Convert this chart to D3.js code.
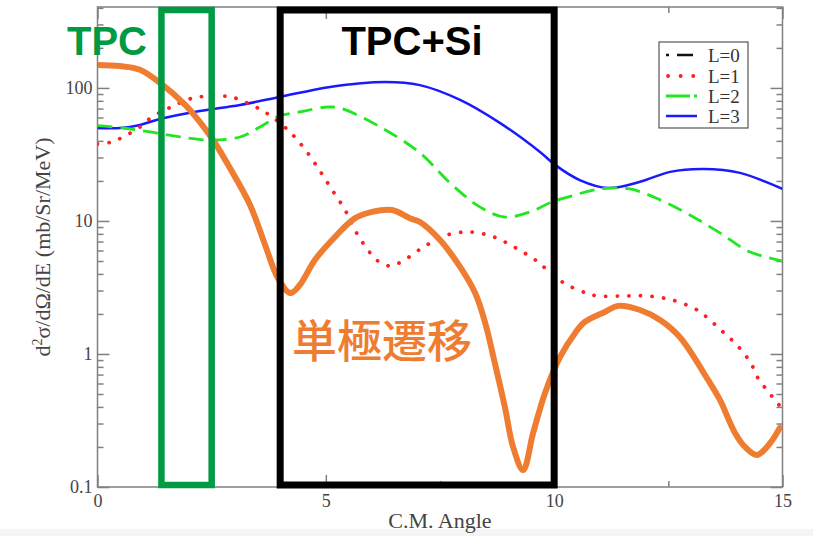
<!DOCTYPE html>
<html><head><meta charset="utf-8">
<script src="https://cdn.jsdelivr.net/npm/d3@7"></script>
<style>body{margin:0;background:#fff}svg{display:block}</style>
</head><body>
<svg id="c" width="813" height="536"></svg>
<script>
// ---- data ----
const seriesNames = ["L=0", "L=1", "L=2", "L=3"];
const angleL0 = [0,0.49,0.93,1.37,1.92,2.24,2.53,2.9,3.34,3.67,3.95,4.22,4.43,4.76,5.2,5.64,6.01,6.45,6.84,7.06,7.5,7.94,8.27,8.49,8.7,8.92,9.1,9.32,9.54,9.8,10.13,10.46,10.67,11.11,11.4,11.88,12.32,12.75,13.37,13.63,13.96,14.18,14.44,14.73,14.94];
const valueL0 = [149,146,137,109,74.5,55.5,40.6,25,13.2,6.6,3.73,2.87,3.3,5.09,7.58,10.5,11.7,12.1,10.5,9.83,7.2,4.51,2.87,1.71,0.856,0.4,0.2,0.134,0.255,0.509,0.95,1.44,1.74,2.07,2.3,2.14,1.8,1.34,0.638,0.451,0.255,0.2,0.174,0.214,0.278];
const angleL1 = [0,0.32,0.56,0.93,1.19,1.48,1.7,1.96,2.2,2.75,3.01,3.51,3.73,4.17,4.52,4.83,5.11,5.42,5.66,5.97,6.14,6.4,6.65,7.11,7.59,8.09,8.62,9.12,9.62,9.8,10.21,10.7,10.96,11.51,12.03,12.58,13.09,13.31,13.7,14.0,14.3,14.51,14.69,14.84,15];
const valueL1 = [37.9,39.3,42.8,50.9,60.5,68.3,74.5,81.3,85.5,87.1,84.1,70.7,63.8,48.3,35.4,25,17.7,12.1,8.27,5.75,5.0,4.59,4.92,6.27,7.71,8.27,7.71,6.38,5.0,4.43,3.42,2.87,2.73,2.73,2.73,2.55,2.18,1.93,1.46,1.17,0.86,0.616,0.527,0.443,0.393];
const angleL2 = [0,0.56,1.15,1.81,2.47,3.12,3.56,3.99,4.43,4.98,5.31,6.19,7.06,7.72,8.38,8.92,9.47,9.91,10.24,11.0,11.66,12.32,12.97,13.63,14.29,15];
const valueL2 = [52,50,46.7,42.8,40.6,42.8,50.9,61.6,66,71.6,70.5,50.9,32.5,19.3,12.7,10.7,11.7,13.7,14.9,17.4,17.4,14.4,11.1,8.13,5.85,5.0];
const angleL3 = [0,0.5,0.93,1.37,2.24,3.12,3.99,5.09,6.3,7.06,7.94,8.81,9.69,10.02,10.56,11.18,11.88,12.54,13.26,14.07,15];
const valueL3 = [50,50,52.7,58.5,67.1,74.5,85.5,101.8,111,105,81.3,54.6,33,26.4,20.3,17.7,19.7,23.4,24.6,23,17.4];
const xMajorTicks = [0, 5, 10, 15];
const xMinorTicks = [2.5, 7.5, 12.5];
const yMajorTicks = [0.1, 1, 10, 100];
const yTickLabels = ["0.1", "1", "10", "100"];
const regionTPC = [1.4, 2.5];
const regionTPCSi = [4.0, 10.0];

// ---- scales ----
const svg = d3.select("#c");
const x = d3.scaleLinear().domain([0, 15]).range([97.5, 782.5]);
const y = d3.scaleLog().domain([0.1, 406]).range([487, 7]);
const yMinorTicks = y.ticks().filter(v => !yMajorTicks.some(m => Math.abs(m - v) < 1e-9));

svg.append("rect").attr("x",0).attr("y",529).attr("width",813).attr("height",7).attr("fill","#f5f5f5");

svg.append("defs").append("clipPath").attr("id","plot")
  .append("rect").attr("x",97.5).attr("y",7).attr("width",685).attr("height",480);

// axes
const tickFont = g => g.selectAll("text").attr("font-family","'Liberation Serif', serif").attr("font-size",18).attr("fill","#444");
const styleAxis = g => { g.select(".domain").remove(); g.selectAll("line").attr("stroke","#808080").attr("stroke-width",1.5); };

svg.append("g").attr("transform","translate(0,487)")
  .call(d3.axisBottom(x).tickValues(xMajorTicks).tickSizeInner(-12).tickSizeOuter(0).tickPadding(7).tickFormat(d3.format("d")))
  .call(styleAxis).call(tickFont);
svg.append("g").attr("transform","translate(0,487)")
  .call(d3.axisBottom(x).tickValues(xMinorTicks).tickSizeInner(-6).tickSizeOuter(0).tickFormat(""))
  .call(styleAxis);
svg.append("g").attr("transform","translate(0,7)")
  .call(d3.axisTop(x).tickValues(xMajorTicks).tickSizeInner(-12).tickSizeOuter(0).tickFormat(""))
  .call(styleAxis);
svg.append("g").attr("transform","translate(0,7)")
  .call(d3.axisTop(x).tickValues(xMinorTicks).tickSizeInner(-6).tickSizeOuter(0).tickFormat(""))
  .call(styleAxis);
svg.append("g").attr("transform","translate(97.5,0)")
  .call(d3.axisLeft(y).tickValues(yMajorTicks).tickSizeInner(-12).tickSizeOuter(0).tickPadding(5).tickFormat((d,i)=>yTickLabels[i]))
  .call(styleAxis).call(tickFont);
svg.append("g").attr("transform","translate(97.5,0)")
  .call(d3.axisLeft(y).tickValues(yMinorTicks).tickSizeInner(-6).tickSizeOuter(0).tickFormat(""))
  .call(styleAxis);
svg.append("g").attr("transform","translate(782.5,0)")
  .call(d3.axisRight(y).tickValues(yMajorTicks).tickSizeInner(-12).tickSizeOuter(0).tickFormat(""))
  .call(styleAxis);
svg.append("g").attr("transform","translate(782.5,0)")
  .call(d3.axisRight(y).tickValues(yMinorTicks).tickSizeInner(-6).tickSizeOuter(0).tickFormat(""))
  .call(styleAxis);
svg.append("rect").attr("x",97.5).attr("y",7).attr("width",685).attr("height",480)
  .attr("fill","none").attr("stroke","#808080").attr("stroke-width",1.5);

// axis titles
svg.append("text").attr("x",440).attr("y",528).attr("text-anchor","middle")
  .attr("font-family","'Liberation Serif', serif").attr("font-size",22).attr("fill","#444").text("C.M. Angle");
const yl = svg.append("text").attr("transform","translate(50,247) rotate(-90)").attr("text-anchor","middle")
  .attr("font-family","'Liberation Serif', serif").attr("font-size",22).attr("fill","#444");
yl.append("tspan").text("d");
yl.append("tspan").attr("dy",-8).attr("font-size",14).text("2");
yl.append("tspan").attr("dy",8).text("σ/dΩ/dE  (mb/Sr/MeV)");

// curves
const line = d3.line().x(d => x(d[0])).y(d => y(d[1])).curve(d3.curveCatmullRom.alpha(0.5));
const plot = svg.append("g").attr("clip-path","url(#plot)");
const zip = (a, b) => a.map((v, i) => [v, b[i]]);
const series = [
  {data: zip(angleL3, valueL3), color:"#1a1aff", w:2.5, dash:null},
  {data: zip(angleL2, valueL2), color:"#22e622", w:2.8, dash:"15,8"},
  {data: zip(angleL1, valueL1), color:"#ff2020", w:3.8, dash:"0.1,11.5", cap:"round"},
  {data: zip(angleL0, valueL0), color:"#111", w:2.5, dash:"10,4,2,4"}
];
series.forEach(s => {
  plot.append("path").attr("d", line(s.data)).attr("fill","none")
    .attr("stroke", s.color).attr("stroke-width", s.w)
    .attr("stroke-dasharray", s.dash).attr("stroke-linecap", s.cap || "butt");
});
// orange hand-drawn highlight over L=0
plot.append("path").attr("d", line(zip(angleL0, valueL0))).attr("fill","none")
  .attr("stroke","#ee7d31").attr("stroke-width",6).attr("stroke-linecap","round").attr("stroke-linejoin","round");

// legend
const lg = svg.append("g");
lg.append("rect").attr("x",659).attr("y",42).attr("width",89).attr("height",86)
  .attr("fill","#fff").attr("stroke","#555").attr("stroke-width",1.2);
const legendStyles = [
  {color:"#111", w:2.5, dash:"3,8,16,20", cap:"butt", x1:666, x2:694},
  {color:"#ff2020", w:3.8, dash:"0.1,12.5", cap:"round", x1:668, x2:694},
  {color:"#22e622", w:2.8, dash:"24,4,3,20", cap:"butt", x1:666, x2:697},
  {color:"#1a1aff", w:2.5, dash:null, cap:"butt", x1:666, x2:697}
];
const legendY = [55, 76, 96, 116];
seriesNames.forEach((n, i) => {
  const st = legendStyles[i];
  lg.append("line").attr("x1",st.x1).attr("x2",st.x2).attr("y1",legendY[i]).attr("y2",legendY[i])
    .attr("stroke",st.color).attr("stroke-width",st.w).attr("stroke-dasharray",st.dash).attr("stroke-linecap",st.cap);
  lg.append("text").attr("x",708).attr("y",legendY[i]+6.5)
    .attr("font-family","'Liberation Serif', serif").attr("font-size",19).attr("fill","#333").text(n);
});

// annotation boxes
svg.append("rect").attr("x",x(regionTPC[0])).attr("y",10).attr("width",x(regionTPC[1])-x(regionTPC[0])).attr("height",475)
  .attr("fill","none").attr("stroke","#009a44").attr("stroke-width",6.5);
svg.append("rect").attr("x",x(regionTPCSi[0])).attr("y",10).attr("width",x(regionTPCSi[1])-x(regionTPCSi[0])).attr("height",475)
  .attr("fill","none").attr("stroke","#000").attr("stroke-width",7);

svg.append("text").attr("x",67).attr("y",55).attr("font-family","'Liberation Sans', Arial, sans-serif")
  .attr("font-weight","bold").attr("font-size",40).attr("fill","#009a44").text("TPC");
svg.append("text").attr("x",412).attr("y",55).attr("text-anchor","middle").attr("font-family","'Liberation Sans', Arial, sans-serif")
  .attr("font-weight","bold").attr("font-size",40).attr("fill","#000").text("TPC+Si");
svg.append("text").attr("x",292).attr("y",358).attr("font-family","'Noto Sans CJK JP', sans-serif")
  .attr("font-weight",500).attr("font-size",45).attr("fill","#ee7d31").text("単極遷移");
</script>
</body></html>
